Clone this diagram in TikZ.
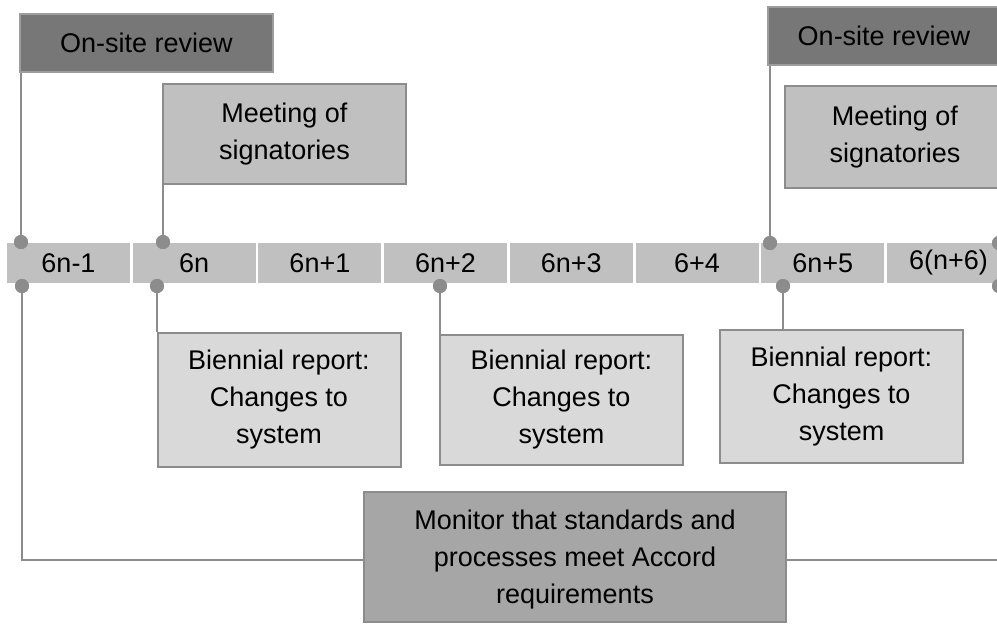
\documentclass[tikz,border=0pt]{standalone}
\usepackage{fontspec}
\setmainfont{Liberation Sans}
\definecolor{linegray}{RGB}{140,140,140}
\definecolor{darkfill}{RGB}{119,119,119}
\definecolor{midfill}{RGB}{192,192,192}
\definecolor{lightfill}{RGB}{217,217,217}
\definecolor{monfill}{RGB}{166,166,166}
\begin{document}
\begin{tikzpicture}[x=1pt,y=-1pt,
  every node/.style={font=\fontsize{27}{37}\selectfont, text=black, align=center, inner sep=0pt},
  onsite/.style={draw=linegray!85!white, line width=2pt, fill=darkfill, minimum width=#1, minimum height=58},
  meetbox/.style={draw=linegray, line width=2pt, fill=midfill, minimum width=#1, minimum height=100},
  biebox/.style={draw=linegray, line width=2pt, fill=lightfill, minimum width=243, minimum height=#1},
  monbox/.style={draw=linegray, line width=2pt, fill=monfill, minimum width=422, minimum height=130, text depth=0pt},
  cell/.style={fill=midfill, minimum width=123, minimum height=40},
  dot/.style={circle, fill=linegray, minimum size=14, inner sep=0pt},
  conn/.style={draw=linegray, line width=2.5pt}
]
\useasboundingbox (0,0) rectangle (997,625);
\clip (0,0) rectangle (997,625);
\fill[white] (0,0) rectangle (997,625);

% timeline cells
\node[cell] (c1) at (68.5,263) {6n-1};
\node[cell] (c2) at (194.2,263) {6n};
\node[cell] (c3) at (319.9,263) {6n+1};
\node[cell] (c4) at (445.6,263) {6n+2};
\node[cell] (c5) at (571.3,263) {6n+3};
\node[cell] (c6) at (697,263) {6+4};
\node[cell] (c7) at (822.7,263) {6n+5};
\node[cell] (c8) at (948.4,263) {6(n+6)};

% top boxes
\node[onsite=253] (ons1) at (146.5,42.5) {On-site review};
\node[meetbox=243] (mt1) at (284.5,134) {Meeting of\\signatories};
\node[onsite=232, minimum height=58] (ons2) at (884,36) {On-site review};
\node[meetbox=220, minimum height=102] (mt2) at (895,137) {Meeting of\\signatories};

% bottom boxes
\node[biebox=134] (bi1) at (279,400) {Biennial report:\\Changes to\\system};
\node[biebox=130] (bi2) at (561.5,400) {Biennial report:\\Changes to\\system};
\node[biebox=133] (bi3) at (841.5,396.5) {Biennial report:\\Changes to\\system};
\node[monbox] (mon) at (575,557) {Monitor that standards and\\processes meet Accord\\requirements};

% dots
\node[dot] (d1) at (21,242) {};
\node[dot] (d2) at (163,242) {};
\node[dot] (d3) at (770,243) {};
\node[dot] (d4) at (999,243) {};
\node[dot] (e1) at (22,286) {};
\node[dot] (e2) at (157,286) {};
\node[dot] (e3) at (440,286) {};
\node[dot] (e4) at (783,286) {};
\node[dot] (e5) at (999,286) {};
\coordinate (rend) at (1000,560);

% connectors
\draw[conn] (d1 |- ons1.south) -- (d1.center);
\draw[conn] (d2 |- mt1.south) -- (d2.center);
\draw[conn] (d3 |- ons2.south) -- (d3.center);
\draw[conn] (e2.center) -- (e2 |- bi1.north);
\draw[conn] (e3.center) -- (e3 |- bi2.north);
\draw[conn] (e4.center) -- (e4 |- bi3.north);
\draw[conn] (e1.center) -- (e1 |- rend) -- (mon.west |- rend);
\draw[conn] (mon.east |- rend) -- (rend);

% dots on top of connectors
\foreach \n in {d1,d2,d3,d4,e1,e2,e3,e4,e5} \fill[linegray] (\n) circle (7);
\end{tikzpicture}
\end{document}
